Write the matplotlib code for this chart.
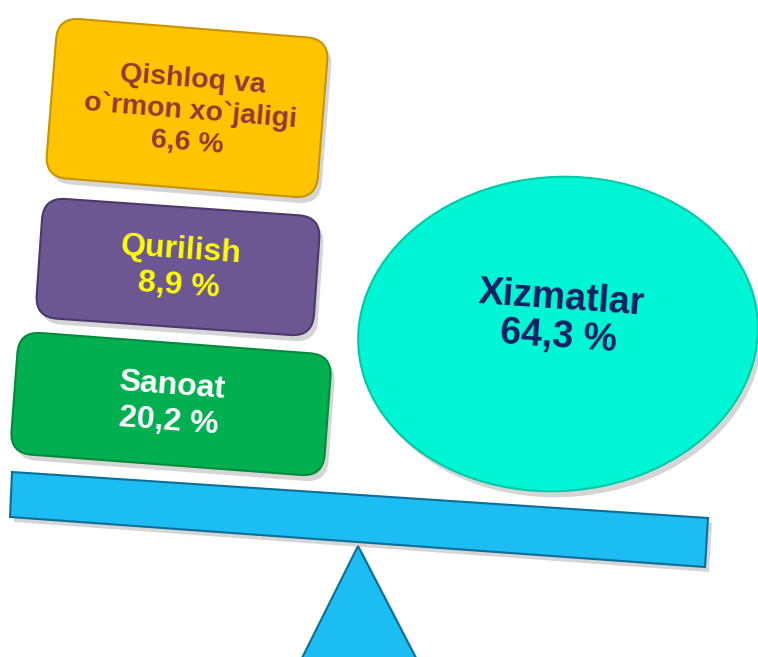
import matplotlib
matplotlib.use("Agg")
import matplotlib.pyplot as plt
from matplotlib.patches import FancyBboxPatch, Ellipse, Polygon
from matplotlib.transforms import Affine2D

# ---- data ----
sectors = ["Qishloq va\no`rmon xo`jaligi", "Qurilish", "Sanoat", "Xizmatlar"]
shares = [6.6, 8.9, 20.2, 64.3]
fill_colors = ["#FFC400", "#6C5793", "#00B050", "#00F5D4"]
edge_colors = ["#C89400", "#4A3A6C", "#008A3C", "#00C9A8"]
text_colors = ["#953735", "#FFFF00", "#FFFFFF", "#0F2063"]
font_sizes = [20.5, 23, 23, 27]

# ---- layout (pixel space) ----
W, H = 758, 657
box_layout = [  # cx, cy, w, h, angle
    (187, 108, 272, 160, 4.6),
    (178, 267, 278, 120, 4.0),
    (171, 404, 314, 122, 4.3),
]
text_pos = [(190, 111), (180, 268), (170, 404), (560, 318)]
line_spacing = [1.25, 1.25, 1.25, 1.1]
ellipse_layout = (558, 334, 400, 314, -4)
beam = [(12, 472), (708, 518), (705, 567), (10, 517)]
tri = [(358, 546), (300, 662), (418, 662)]

fig = plt.figure(figsize=(W / 100, H / 100), dpi=100)
ax = fig.add_axes([0, 0, 1, 1])
ax.set_xlim(0, W)
ax.set_ylim(H, 0)
ax.set_aspect("equal")
ax.axis("off")

def label(i):
    return f"{sectors[i]}\n{shares[i]:.1f} %".replace(".", ",")

# triangle (fulcrum)
ax.add_patch(Polygon([(x + 4, y + 4) for x, y in tri], closed=True,
                     facecolor="#888888", alpha=0.35, edgecolor="none", zorder=1))
ax.add_patch(Polygon(tri, closed=True, facecolor="#1CBDF2",
                     edgecolor="#0A6F96", lw=1.5, zorder=2))

# beam
ax.add_patch(Polygon([(x + 4, y + 5) for x, y in beam], closed=True,
                     facecolor="#888888", alpha=0.35, edgecolor="none", zorder=3))
ax.add_patch(Polygon(beam, closed=True, facecolor="#1CBDF2",
                     edgecolor="#0A6F96", lw=1.5, zorder=4))

# boxes
for i, (cx, cy, w, h, ang) in enumerate(box_layout):
    for dx, dy, fc, ec, a, z in [(4, 6, "#888888", "none", 0.35, 5),
                                 (0, 0, fill_colors[i], edge_colors[i], 1.0, 6)]:
        p = FancyBboxPatch((cx - w / 2 + dx, cy - h / 2 + dy), w, h,
                           boxstyle="round,pad=0,rounding_size=22",
                           facecolor=fc, edgecolor=ec, lw=1.5, alpha=a, zorder=z)
        p.set_transform(Affine2D().rotate_deg_around(cx + dx, cy + dy, ang) + ax.transData)
        ax.add_patch(p)
    tx, ty = text_pos[i]
    ax.text(tx, ty, label(i), ha="center", va="center", multialignment="center",
            color=text_colors[i], fontsize=font_sizes[i], fontweight="bold",
            family="Liberation Sans", rotation=-ang, rotation_mode="anchor",
            linespacing=line_spacing[i], zorder=7)

# ellipse
ex, ey, ew, eh, ea = ellipse_layout
ax.add_patch(Ellipse((ex + 4, ey + 6), ew, eh, angle=ea, facecolor="#888888",
                     alpha=0.35, edgecolor="none", zorder=5))
ax.add_patch(Ellipse((ex, ey), ew, eh, angle=ea, facecolor=fill_colors[3],
                     edgecolor=edge_colors[3], lw=1.5, zorder=6))
tx, ty = text_pos[3]
ax.text(tx, ty, label(3), ha="center", va="center", multialignment="center",
        color=text_colors[3], fontsize=font_sizes[3], fontweight="bold",
        family="Liberation Sans", rotation=-4, rotation_mode="anchor",
        linespacing=line_spacing[3], zorder=7)

fig.savefig("out.png", dpi=100)
